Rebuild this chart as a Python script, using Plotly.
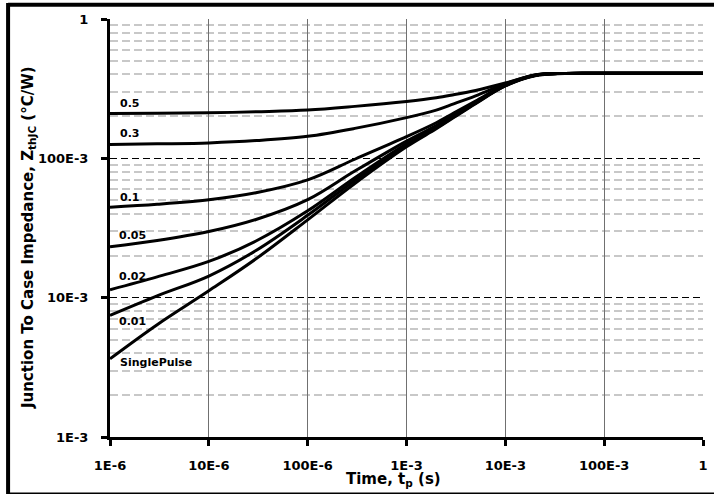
import plotly.graph_objects as go

# Pulse duration (s)
time_s = [1e-6, 3e-6, 1e-5, 3e-5, 1e-4, 3e-4, 1e-3, 2e-3, 3e-3, 5e-3, 1e-2, 2e-2, 4e-2, 1e-1, 1.0]

# Transient thermal impedance Zth(j-c) in °C/W, one list per duty cycle
z_d050 = [0.210, 0.211, 0.212, 0.216, 0.222, 0.236, 0.256, 0.272, 0.286, 0.307, 0.347, 0.397, 0.407, 0.408, 0.408]
z_d030 = [0.1255, 0.127, 0.129, 0.134, 0.144, 0.164, 0.196, 0.222, 0.246, 0.281, 0.342, 0.396, 0.407, 0.408, 0.408]
z_d010 = [0.0446, 0.0468, 0.0504, 0.0566, 0.0700, 0.0985, 0.143, 0.180, 0.211, 0.258, 0.336, 0.395, 0.407, 0.408, 0.408]
z_d005 = [0.0232, 0.0257, 0.0298, 0.0364, 0.0505, 0.0810, 0.133, 0.172, 0.204, 0.253, 0.334, 0.394, 0.407, 0.408, 0.408]
z_d002 = [0.0114, 0.0141, 0.0182, 0.0255, 0.0420, 0.0725, 0.127, 0.167, 0.200, 0.250, 0.333, 0.394, 0.407, 0.408, 0.408]
z_d001 = [0.00746, 0.0103, 0.0143, 0.0218, 0.0390, 0.0694, 0.124, 0.165, 0.198, 0.249, 0.332, 0.393, 0.407, 0.408, 0.408]
z_single = [0.00364, 0.0064, 0.0112, 0.0190, 0.0362, 0.0660, 0.121, 0.163, 0.196, 0.247, 0.331, 0.392, 0.406, 0.408, 0.408]

curve_names = ["0.5", "0.3", "0.1", "0.05", "0.02", "0.01", "SinglePulse"]
curve_values = [z_d050, z_d030, z_d010, z_d005, z_d002, z_d001, z_single]

x_tickvals = [1e-6, 1e-5, 1e-4, 1e-3, 1e-2, 1e-1, 1]
x_ticktext = ["1E-6", "10E-6", "100E-6", "1E-3", "10E-3", "100E-3", "1"]
y_tickvals = [1e-3, 1e-2, 1e-1, 1]
y_ticktext = ["1E-3", "10E-3", "100E-3", "1"]

# minor grid at 2..9 within each decade of the y range
y_minor = [m * d for d in (1e-3, 1e-2, 1e-1) for m in range(2, 10)]

W, H = 714, 495
L, R, T, B = 110, 10.5, 19, 58
PW, PH = W - L - R, H - T - B

FONT = "DejaVu Sans"


def px_x(p):
    return (p - L) / PW


def px_y(p):
    return (H - B - p) / PH


fig = go.Figure()
for name, vals in zip(curve_names, curve_values):
    fig.add_trace(go.Scatter(
        x=time_s, y=vals, mode="lines", name=name,
        line=dict(color="black", width=3, shape="spline", smoothing=1.0),
        showlegend=False, hoverinfo="skip",
    ))

# curve labels: (left edge px, centre px)
label_pos = {
    "0.5": (118, 103), "0.3": (118, 133), "0.1": (118, 197),
    "0.05": (117, 235), "0.02": (117, 276), "0.01": (117, 321.5),
    "SinglePulse": (118, 362.5),
}
annotations = []
for name in curve_names:
    lx, ly = label_pos[name]
    annotations.append(dict(
        x=px_x(lx), y=px_y(ly), xref="paper", yref="paper",
        text=f"<b>{name}</b>", showarrow=False, xanchor="left", yanchor="middle",
        font=dict(family=FONT, size=11, color="black"),
    ))

annotations.append(dict(
    x=px_x(394), y=px_y(479), xref="paper", yref="paper",
    text="<b>Time, t<sub>p</sub> (s)</b>", showarrow=False,
    xanchor="center", yanchor="middle",
    font=dict(family=FONT, size=15, color="black"),
))
annotations.append(dict(
    x=px_x(28), y=px_y(238), xref="paper", yref="paper",
    text="<b>Junction To Case Impedance, Z<sub>thJC</sub> (°C/W)</b>", showarrow=False,
    xanchor="center", yanchor="middle", textangle=-90,
    font=dict(family=FONT, size=15, color="black"),
))

shapes = [
    # outer frame
    dict(type="line", xref="paper", yref="paper", x0=px_x(8), x1=px_x(716),
         y0=px_y(4.7), y1=px_y(4.7), line=dict(color="black", width=4)),
    dict(type="line", xref="paper", yref="paper", x0=px_x(8), x1=px_x(8),
         y0=px_y(3), y1=px_y(494), line=dict(color="black", width=4)),
    dict(type="line", xref="paper", yref="paper", x0=px_x(8), x1=px_x(716),
         y0=px_y(493.3), y1=px_y(493.3), line=dict(color="black", width=1.5)),
]

fig.update_layout(
    width=W, height=H,
    margin=dict(l=L, r=R, t=T, b=B, pad=0, autoexpand=False),
    paper_bgcolor="white", plot_bgcolor="white",
    font=dict(family=FONT, color="black"),
    annotations=annotations, shapes=shapes,
)

fig.update_xaxes(
    type="log", range=[-6, 0], automargin=False,
    tickvals=x_tickvals, ticktext=x_ticktext,
    tickfont=dict(family=FONT, size=13, color="black", weight="bold"),
    ticks="outside", ticklen=6, tickwidth=3, tickcolor="black",
    ticklabelstandoff=8,
    showline=True, linecolor="black", linewidth=3,
    showgrid=True, gridcolor="#707070", gridwidth=1,
    zeroline=False,
)
fig.update_yaxes(
    type="log", range=[-3, 0], automargin=False,
    tickvals=y_tickvals, ticktext=y_ticktext,
    tickfont=dict(family=FONT, size=13, color="black", weight="bold"),
    ticks="outside", ticklen=6, tickwidth=3, tickcolor="black",
    ticklabelstandoff=10,
    showline=True, linecolor="black", linewidth=3,
    showgrid=True, gridcolor="black", gridwidth=1, griddash="7px,4px",
    minor=dict(tickmode="array", tickvals=y_minor, showgrid=True,
               gridcolor="#c8c8c8", gridwidth=1.5, griddash="8px,4px", ticks=""),
    zeroline=False,
)

fig.write_html("out.html")
